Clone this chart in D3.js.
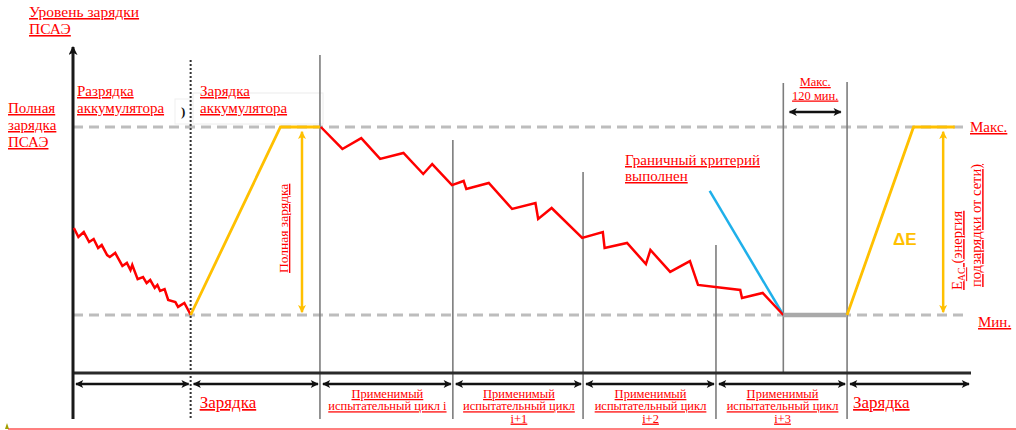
<!DOCTYPE html>
<html>
<head>
<meta charset="utf-8">
<script src="https://cdn.jsdelivr.net/npm/d3@7"></script>
<style>
  html, body { margin: 0; padding: 0; background: #fff; }
  svg { display: block; }
  .lbl { font-family: "Liberation Serif", "Times New Roman", serif; fill: #ff0000; text-decoration: underline; }
</style>
</head>
<body>
<svg id="chart" width="1016" height="430"></svg>
<script>
// Time runs 0..100 along the test sequence; level is 0 (min) .. 100 (max) state of charge.
const dischargePath = [
  [0.1, 46.3], [0.6, 41.5], [1.2, 44.1], [1.8, 38.8], [2.3, 40.4], [2.8, 35.6], [3.2, 37.2],
  [3.8, 31.9], [4.1, 30.9], [4.7, 33.0], [5.5, 26.1], [6.0, 27.7], [6.4, 23.9], [6.6, 26.6],
  [7.2, 19.1], [7.8, 20.2], [8.2, 17.0], [8.6, 18.6], [9.1, 14.4], [9.4, 16.0], [9.7, 12.8],
  [10.2, 13.8], [10.6, 8.0], [11.4, 6.9], [11.7, 4.3], [12.4, 6.4], [13.0, 1.1], [13.1, 0]
];
const chargePath = [[13.1, 0], [23.1, 100], [27.5, 100]];
const cyclePath = [
  [27.6, 100], [30.0, 88.3], [32.1, 94.1], [34.2, 83.0], [36.8, 86.2], [39.0, 75.0], [40.0, 80.3],
  [42.2, 69.1], [43.5, 71.3], [43.8, 67.0], [46.3, 70.2], [48.9, 56.4], [51.5, 59.6], [51.8, 51.1],
  [53.3, 56.9], [56.7, 41.0], [59.0, 44.1], [59.2, 35.6], [61.7, 38.3], [63.8, 27.1], [64.3, 34.6],
  [66.5, 22.9], [68.7, 28.7], [69.6, 16.0], [74.3, 13.3], [74.5, 9.0], [76.8, 11.7], [79.1, 0]
];
const criterionPath = [[70.9, 66.0], [79.1, 0]];
const restPath = [[79.1, 0], [86.2, 0]];
const rechargePath = [[86.2, 0], [93.6, 100], [98.2, 100]];

// Phase boundaries (time) and the level at which each marker line starts
const phaseBounds = [13.1, 27.5, 42.3, 56.8, 71.6, 79.1, 86.2];
const markerTop   = [135.6, 138.3, 93.1, 76.1, 37.2, 123.4, 123.9];
const markerBelowAxis = [true, true, true, true, true, false, true];
const phaseSpans = [[0, 13.1], [13.1, 27.5], [27.5, 42.3], [42.3, 56.8], [56.8, 71.6], [71.6, 86.2], [86.2, 100]];

const cycleLabels = [
  ["Применимый", "испытательный цикл i"],
  ["Применимый", "испытательный цикл", "i+1"],
  ["Применимый", "испытательный цикл", "i+2"],
  ["Применимый", "испытательный цикл", "i+3"]
];
const fullChargeArrowT = 25.5;
const acEnergyArrowT = 96.9;
const restWindow = [79.8, 85.5];
const levelTicks = [{ v: 100, label: "Макс." }, { v: 0, label: "Мин." }];

const svg = d3.select("#chart");
const x = d3.scaleLinear().domain([0, 100]).range([73, 971]);
const y = d3.scaleLinear().domain([0, 100]).range([315, 127]);
const axisY = 373;

const RED = "#ff0000", GOLD = "#ffc000", BLUE = "#1fb0ea";

const defs = svg.append("defs");
function marker(id, color, orient, w, h) {
  defs.append("marker").attr("id", id).attr("viewBox", "0 0 10 10")
    .attr("refX", 9).attr("refY", 5).attr("markerWidth", w).attr("markerHeight", h)
    .attr("markerUnits", "userSpaceOnUse").attr("orient", orient)
    .append("path").attr("d", "M0,0 L10,5 L0,10 L2.5,5 Z").attr("fill", color);
}
marker("ablk", "#111", "auto-start-reverse", 10, 8);
marker("agold", GOLD, "auto-start-reverse", 9, 8);
marker("aaxis", "#111", "auto", 11, 9);

const line = d3.line().x(d => x(d[0])).y(d => y(d[1]));

// faint frames left from the label boxes
svg.append("rect").attr("x", 193).attr("y", 93).attr("width", 130).attr("height", 31)
  .attr("fill", "none").attr("stroke", "#ececec").attr("stroke-width", 1);
svg.append("rect").attr("x", 175).attr("y", 99).attr("width", 16).attr("height", 25)
  .attr("fill", "none").attr("stroke", "#efefef").attr("stroke-width", 1);
svg.append("text").attr("x", 181).attr("y", 116).attr("font-family", "Liberation Serif")
  .attr("font-size", 13).attr("font-weight", "bold").attr("fill", "#111").text(")");

// max / min dashed guides
svg.selectAll(".guide").data(levelTicks).join("line").attr("class", "guide")
  .attr("x1", x(0)).attr("x2", d => d.v === 100 ? 963 : 968)
  .attr("y1", d => y(d.v)).attr("y2", d => y(d.v))
  .attr("stroke", "#bdbdbd").attr("stroke-width", 3).attr("stroke-dasharray", "10,6");

// phase marker lines
phaseBounds.forEach((t, i) => {
  const g = svg.append("line")
    .attr("x1", x(t)).attr("x2", x(t))
    .attr("y1", y(markerTop[i])).attr("y2", markerBelowAxis[i] ? 419 : axisY);
  if (i === 0) {
    g.attr("stroke", "#333").attr("stroke-width", 2).attr("stroke-dasharray", "2,2");
  } else {
    g.attr("stroke", "#7d7d7d").attr("stroke-width", 1.6);
  }
});

// axes
svg.append("line").attr("x1", x(0)).attr("x2", x(100)).attr("y1", axisY).attr("y2", axisY)
  .attr("stroke", "#2a2a2a").attr("stroke-width", 3);
svg.append("line").attr("x1", x(0)).attr("x2", x(0)).attr("y1", 419).attr("y2", 47)
  .attr("stroke", "#1a1a1a").attr("stroke-width", 3).attr("marker-end", "url(#aaxis)");

// state-of-charge traces
svg.append("path").datum(criterionPath).attr("d", line).attr("fill", "none")
  .attr("stroke", BLUE).attr("stroke-width", 2.5);
svg.append("path").datum(dischargePath).attr("d", line).attr("fill", "none")
  .attr("stroke", RED).attr("stroke-width", 2.5).attr("stroke-linejoin", "miter");
svg.append("path").datum(cyclePath).attr("d", line).attr("fill", "none")
  .attr("stroke", RED).attr("stroke-width", 2.5);
svg.append("path").datum(restPath).attr("d", line).attr("fill", "none")
  .attr("stroke", "#a9a9a9").attr("stroke-width", 4.5);
svg.append("path").datum(chargePath).attr("d", line).attr("fill", "none")
  .attr("stroke", GOLD).attr("stroke-width", 2.8);
svg.append("path").datum(rechargePath).attr("d", line).attr("fill", "none")
  .attr("stroke", GOLD).attr("stroke-width", 2.8);

// energy arrows
[fullChargeArrowT, acEnergyArrowT].forEach(t => {
  svg.append("line").attr("x1", x(t)).attr("x2", x(t)).attr("y1", y(97.5)).attr("y2", y(1.5))
    .attr("stroke", GOLD).attr("stroke-width", 2.5)
    .attr("marker-start", "url(#agold)").attr("marker-end", "url(#agold)");
});

// max rest window arrow
svg.append("line").attr("x1", x(restWindow[0])).attr("x2", x(restWindow[1]))
  .attr("y1", y(108)).attr("y2", y(108))
  .attr("stroke", "#111").attr("stroke-width", 2.5)
  .attr("marker-start", "url(#ablk)").attr("marker-end", "url(#ablk)");

// phase span arrows under the axis
svg.selectAll(".span").data(phaseSpans).join("line").attr("class", "span")
  .attr("x1", d => x(d[0]) + 3).attr("x2", d => x(d[1]) - 2)
  .attr("y1", 384).attr("y2", 384)
  .attr("stroke", "#111").attr("stroke-width", 2.5)
  .attr("marker-start", "url(#ablk)").attr("marker-end", "url(#ablk)");

// text helpers
function label(lines, px, py, size, anchor, lh) {
  const t = svg.append("text").attr("class", "lbl").attr("font-size", size)
    .attr("text-anchor", anchor || "start");
  lines.forEach((s, i) => t.append("tspan").attr("x", px).attr("y", py + i * (lh || size * 1.1)).text(s));
  return t;
}

label(["Уровень зарядки", "ПСАЭ"], 29, 17, 15.5, "start", 17);
label(["Полная", "зарядка", "ПСАЭ"], 8, 113, 15, "start", 17);
label(["Разрядка", "аккумулятора"], 77, 96, 15, "start", 17);
label(["Зарядка", "аккумулятора"], 200, 96, 15, "start", 17);
label(["Граничный критерий", "выполнен"], 625, 165, 15, "start", 16);
label(["Макс.", "120 мин."], (x(restWindow[0]) + x(restWindow[1])) / 2, 86, 12.5, "middle", 13.5);

levelTicks.forEach(d => {
  label([d.label], d.v === 100 ? 970 : 978, y(d.v) + (d.v === 100 ? 5 : 12), 15, "start");
});

// vertical captions
svg.append("text").attr("class", "lbl").attr("font-size", 13.5)
  .attr("transform", `translate(${x(fullChargeArrowT) - 14},273) rotate(-90)`)
  .text("Полная зарядка");
const eac = svg.append("text").attr("class", "lbl").attr("font-size", 14.5)
  .attr("transform", `translate(${x(acEnergyArrowT) + 19},290) rotate(-90)`);
eac.append("tspan").text("E");
eac.append("tspan").attr("font-size", 10).attr("dy", 3).text("AC");
eac.append("tspan").attr("dy", -3).text(" (энергия");
svg.append("text").attr("class", "lbl").attr("font-size", 14.5)
  .attr("transform", `translate(${x(acEnergyArrowT) + 38},287) rotate(-90)`)
  .text("подзарядки от сети)");

svg.append("text").attr("x", 893).attr("y", 245)
  .attr("font-family", "Liberation Sans, Arial, sans-serif").attr("font-weight", "bold")
  .attr("font-size", 17).attr("fill", GOLD).text("ΔE");

// phase captions below the axis
label(["Зарядка"], x(phaseSpans[1][0]) + 9, 408, 17, "start");
label(["Зарядка"], x(phaseSpans[6][0]) + 6, 408, 17, "start");
cycleLabels.forEach((lines, i) => {
  const s = phaseSpans[i + 2];
  label(lines, (x(s[0]) + x(s[1])) / 2 + 1, 398, 12.5, "middle", 12.3);
});

// bottom rule
svg.append("line").attr("x1", 8).attr("x2", 1016).attr("y1", 429).attr("y2", 429)
  .attr("stroke", RED).attr("stroke-width", 1.2);
svg.append("path").attr("d", "M5,429 L7,423 L9,429 Z").attr("fill", "#a0a000");
</script>
</body>
</html>
